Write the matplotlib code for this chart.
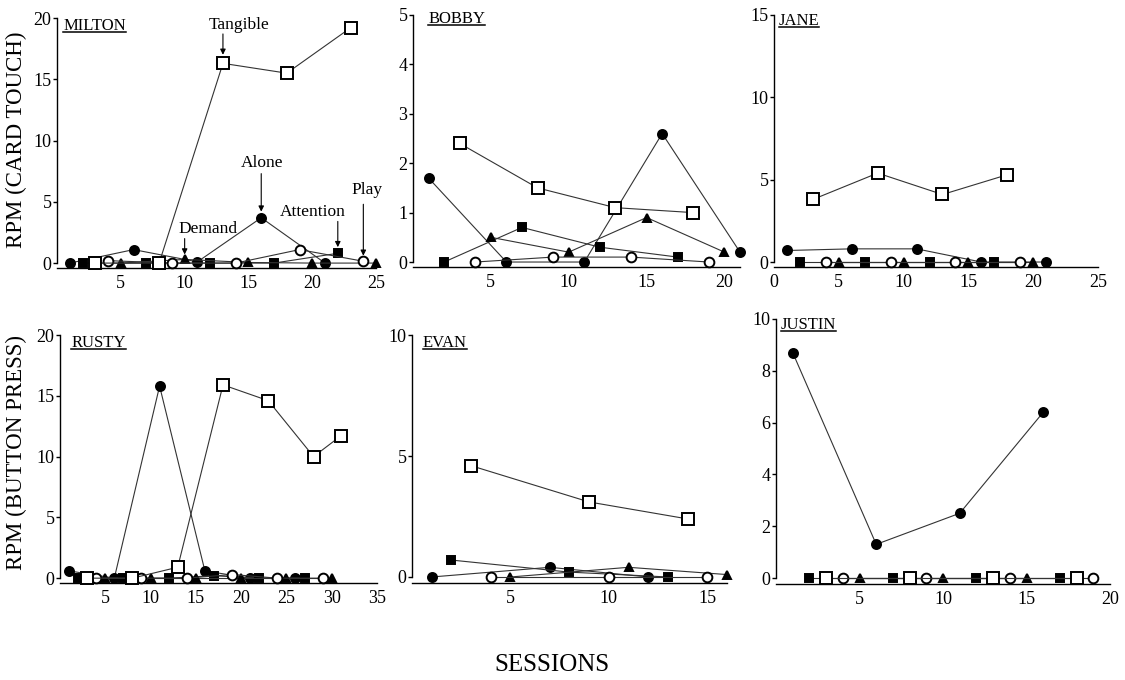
import matplotlib
matplotlib.use('Agg')
import matplotlib.pyplot as plt
from matplotlib.lines import Line2D

plt.rcParams['font.family'] = ['Liberation Serif', 'DejaVu Serif']

# sessions / rate per minute
milton_alone = ([1, 6, 11, 16, 21], [0, 1.1, 0.1, 3.7, 0])
milton_attention = ([2, 7, 12, 17, 22], [0, 0, 0, 0, 0.8])
milton_demand = ([5, 10, 15, 20, 25], [0, 0.3, 0.05, 0, 0])
milton_play = ([4, 9, 14, 19, 24], [0.2, 0, 0, 1.1, 0.15])
milton_tangible = ([3, 8, 13, 18, 23], [0, 0, 16.3, 15.5, 19.2])

bobby_alone = ([1, 6, 11, 16, 21], [1.7, 0, 0, 2.6, 0.2])
bobby_attention = ([2, 7, 12, 17], [0, 0.7, 0.3, 0.1])
bobby_demand = ([5, 10, 15, 20], [0.5, 0.2, 0.9, 0.2])
bobby_play = ([4, 9, 14, 19], [0, 0.1, 0.1, 0])
bobby_tangible = ([3, 8, 13, 18], [2.4, 1.5, 1.1, 1.0])

jane_alone = ([1, 6, 11, 16, 21], [0.7, 0.8, 0.8, 0, 0])
jane_attention = ([2, 7, 12, 17], [0, 0, 0, 0])
jane_demand = ([5, 10, 15, 20], [0, 0, 0, 0])
jane_play = ([4, 9, 14, 19], [0, 0, 0, 0])
jane_tangible = ([3, 8, 13, 18], [3.8, 5.4, 4.1, 5.3])

rusty_alone = ([1, 6, 11, 16, 21, 26], [0.6, 0, 15.8, 0.6, 0, 0])
rusty_attention = ([2, 7, 12, 17, 22, 27], [0, 0, 0, 0.2, 0, 0])
rusty_demand = ([5, 10, 15, 20, 25, 30], [0, 0, 0, 0, 0, 0])
rusty_play = ([4, 9, 14, 19, 24, 29], [0, 0, 0, 0.3, 0, 0])
rusty_tangible = ([3, 8, 13, 18, 23, 28, 31], [0, 0, 0.9, 15.9, 14.6, 10.0, 11.7])

evan_alone = ([1, 7, 12], [0, 0.4, 0])
evan_attention = ([2, 8, 13], [0.7, 0.2, 0])
evan_demand = ([5, 11, 16], [0, 0.4, 0.1])
evan_play = ([4, 10, 15], [0, 0, 0])
evan_tangible = ([3, 9, 14], [4.6, 3.1, 2.4])

justin_alone = ([1, 6, 11, 16], [8.7, 1.3, 2.5, 6.4])
justin_attention = ([2, 7, 12, 17], [0, 0, 0, 0])
justin_demand = ([5, 10, 15], [0, 0, 0])
justin_play = ([4, 9, 14, 19], [0, 0, 0, 0])
justin_tangible = ([3, 8, 13, 18], [0, 0, 0, 0])

# marker style per condition: marker, face, size
styles = {
    'alone': ('o', 'black', 6.5),
    'attention': ('s', 'black', 6),
    'demand': ('^', 'black', 5.5),
    'play': ('o', 'white', 7),
    'tangible': ('s', 'white', 8),
}

panels = [
    ('MILTON', [milton_alone, milton_attention, milton_demand, milton_play, milton_tangible],
     [0.0507, 0.6059, 0.2836, 0.3676], (0, 25), (-0.4, 20), [0, 5, 10, 15, 20], [5, 10, 15, 20, 25], (0.02, 0.968)),
    ('BOBBY', [bobby_alone, bobby_attention, bobby_demand, bobby_play, bobby_tangible],
     [0.3671, 0.6074, 0.2907, 0.3706], (0, 21), (-0.1, 5), [0, 1, 2, 3, 4, 5], [5, 10, 15, 20], (0.046, 0.985)),
    ('JANE', [jane_alone, jane_attention, jane_demand, jane_play, jane_tangible],
     [0.688, 0.6074, 0.288, 0.3706], (0, 25), (-0.3, 15), [0, 5, 10, 15], [0, 5, 10, 15, 20, 25], (0.015, 0.976)),
    ('RUSTY', [rusty_alone, rusty_attention, rusty_demand, rusty_play, rusty_tangible],
     [0.0533, 0.1426, 0.2818, 0.3647], (0, 35), (-0.4, 20), [0, 5, 10, 15, 20], [5, 10, 15, 20, 25, 30, 35], (0.035, 0.968)),
    ('EVAN', [evan_alone, evan_attention, evan_demand, evan_play, evan_tangible],
     [0.3662, 0.1426, 0.28, 0.3647], (0, 16), (-0.25, 10), [0, 5, 10], [5, 10, 15], (0.035, 0.968)),
    ('JUSTIN', [justin_alone, justin_attention, justin_demand, justin_play, justin_tangible],
     [0.6898, 0.1412, 0.2969, 0.3897], (0, 20), (-0.23, 10), [0, 2, 4, 6, 8, 10], [5, 10, 15, 20], (0.015, 0.977)),
]

fig = plt.figure(figsize=(11.25, 6.8), dpi=100)
axes = {}
names = []
for name, series, rect, xlim, ylim, yticks, xticks, namepos in panels:
    ax = fig.add_axes(rect)
    axes[name] = ax
    for key, (xs, ys) in zip(['alone', 'attention', 'demand', 'play', 'tangible'], series):
        m, fc, ms = styles[key]
        ax.plot(xs, ys, color='#333333', lw=0.8, marker=m, markerfacecolor=fc,
                markeredgecolor='black', markeredgewidth=1.4, markersize=ms, clip_on=False, zorder=3)
    ax.set_xlim(*xlim)
    ax.set_ylim(*ylim)
    ax.set_yticks(yticks)
    ax.set_xticks(xticks)
    ax.spines['top'].set_visible(False)
    ax.spines['right'].set_visible(False)
    ax.spines['left'].set_bounds(0, ylim[1])
    ax.spines['left'].set_linewidth(1.0)
    ax.spines['bottom'].set_linewidth(1.0)
    ax.tick_params(axis='y', direction='out', length=3, width=1, labelsize=13, pad=1)
    ax.tick_params(axis='x', length=0, labelsize=13, pad=5)
    ax.patch.set_visible(False)
    t = ax.text(namepos[0], namepos[1], name, transform=ax.transAxes,
                fontsize=12, ha='left', va='center')
    names.append(t)

# condition labels on Milton's panel
ax = axes['MILTON']
arrow = dict(arrowstyle='-|>', color='black', lw=0.8, mutation_scale=8, shrinkA=0, shrinkB=0)
labels = [('Tangible', (14.3, 19.4), (13, 18.7), (13, 17.0)),
          ('Alone', (16.1, 8.2), (16, 7.3), (16, 4.2)),
          ('Demand', (11.8, 2.8), (10, 2.0), (10, 0.7)),
          ('Attention', (20.0, 4.2), (22, 3.4), (22, 1.3)),
          ('Play', (24.3, 6.0), (24, 4.8), (24, 0.6))]
for txt, tpos, a0, a1 in labels:
    ax.text(tpos[0], tpos[1], txt, fontsize=12.5, ha='center', va='center')
    ax.annotate('', xy=a1, xytext=a0, arrowprops=arrow)

fig.text(16 / 1125, 1 - 140 / 680, 'RPM (CARD TOUCH)', rotation=90, fontsize=16.5, ha='center', va='center')
fig.text(16 / 1125, 1 - 452 / 680, 'RPM (BUTTON PRESS)', rotation=90, fontsize=16.5, ha='center', va='center')
fig.text(0.491, 1 - 665 / 680, 'SESSIONS', fontsize=18, ha='center', va='center')

# underline the names
fig.canvas.draw()
r = fig.canvas.get_renderer()
W, H = fig.bbox.width, fig.bbox.height
for t in names:
    bb = t.get_window_extent(r)
    y = (bb.y0 + 2) / H
    fig.add_artist(Line2D([bb.x0 / W, bb.x1 / W], [y, y], color='black', lw=1.1))

fig.savefig('out.png', dpi=100)
